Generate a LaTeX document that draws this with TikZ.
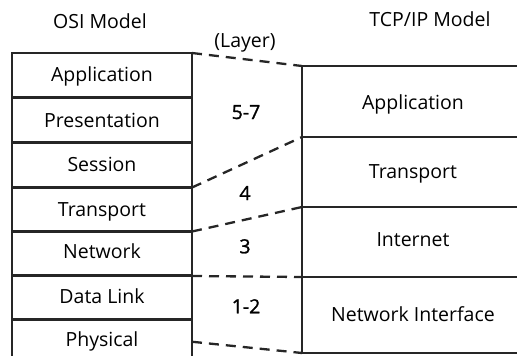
\documentclass[tikz,border=0pt]{standalone}
\usepackage{fontspec}
\setmainfont{Open Sans}
\newfontfamily\semib[FakeBold=1.2]{Open Sans}
\begin{document}
\begin{tikzpicture}[x=1pt,y=-1pt,
  every node/.style={font=\fontsize{19.5}{23}\selectfont},
  txt/.style={anchor=base, inner sep=0pt},
  layerbox/.style={draw=black!85, line width=2.6pt, inner sep=0pt, outer sep=0pt, anchor=north west},
  osirow/.style={layerbox, minimum width=180pt, minimum height=44.5pt},
  tcprow/.style={layerbox, minimum width=225pt},
  map/.style={draw=black!85, line width=2.3pt, dash pattern=on 10pt off 7pt},
  lbl/.style={txt, font=\fontsize{19.5}{23}\semib}
]
\useasboundingbox (0,0) rectangle (517,356);
\clip (0,0) rectangle (517,356);
\node[txt] (osititle) at (100,28) {OSI Model};
\node[txt] (tcptitle) at (430,27) {TCP/IP Model};
% OSI stack
\node[osirow] (oapp) at (12,53) {};
\node[osirow] (opre) at (12,98) {};
\node[osirow] (oses) at (12,143) {};
\node[osirow] (otr)  at (12,187) {};
\node[osirow] (onet) at (12,231.5) {};
\node[osirow] (odl)  at (12,275.5) {};
\node[osirow] (ophy) at (12,319.5) {};
\node[txt] at (102,81.7) {Application};
\node[txt] at (102,127.7) {Presentation};
\node[txt] at (102,171.7) {Session};
\node[txt] at (102,216) {Transport};
\node[txt] at (102,258.5) {Network};
\node[txt] at (102,303.3) {Data Link};
\node[txt] at (102,346.7) {Physical};
% TCP/IP stack
\node[tcprow, minimum height=71pt] (tapp) at (302,66) {};
\node[tcprow, minimum height=70pt] (ttr)  at (302,137) {};
\node[tcprow, minimum height=70pt] (tin)  at (302,207) {};
\node[tcprow, minimum height=76pt] (tni)  at (302,277) {};
\node[txt] at (413,109.3) {Application};
\node[txt] at (413,178.3) {Transport};
\node[txt] at (413,246.7) {Internet};
\node[txt] at (413,321.7) {Network Interface};
% mapping lines
\draw[map] (oapp.north east) -- (tapp.north west);
\draw[map] (oses.south east) -- (ttr.north west);
\draw[map] (otr.south east) -- (tin.north west);
\draw[map] (onet.south east) -- (tni.north west);
\draw[map] (ophy.east) -- (tni.south west);
% labels
\node[txt] (layer) at (245,47.7) {(Layer)};
\node[lbl] (l57) at (246,119) {5-7};
\node[lbl] (l4) at (245,200) {4};
\node[lbl] (l3) at (245,253.3) {3};
\node[lbl] (l12) at (246,313.3) {1-2};
\end{tikzpicture}
\end{document}
